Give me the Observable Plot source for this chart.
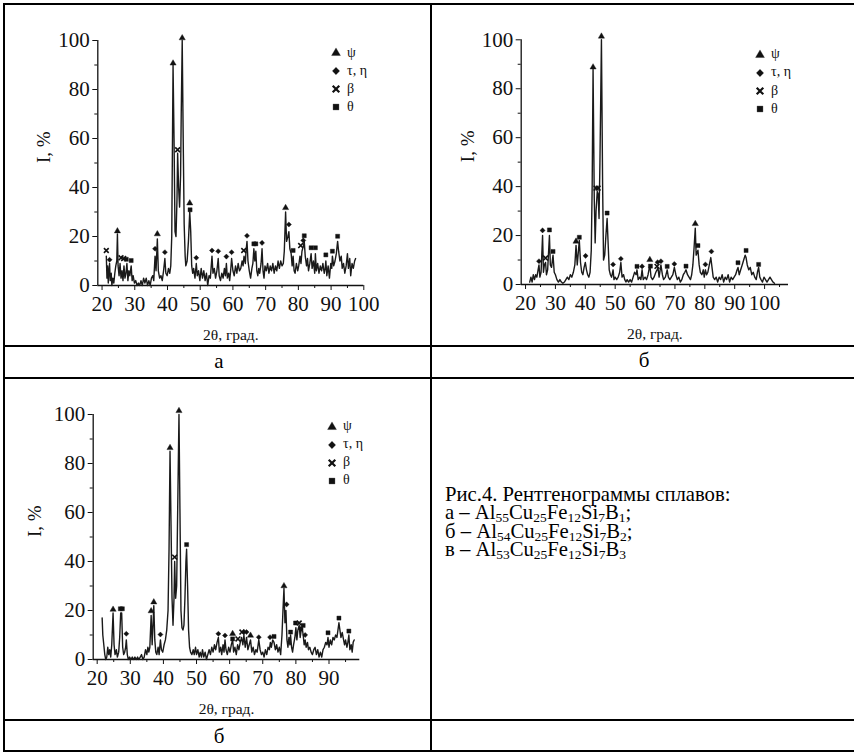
<!DOCTYPE html>
<html><head><meta charset="utf-8">
<script src="https://cdn.jsdelivr.net/npm/d3@7"></script>
<script src="https://cdn.jsdelivr.net/npm/@observablehq/plot@0.6"></script>
<style>
html,body{margin:0;padding:0;background:#fff;}
body{width:854px;height:752px;position:relative;overflow:hidden;font-family:"Liberation Serif","Times New Roman",serif;color:#000;}
.ln{position:absolute;background:#000;}
.plot{position:absolute;}
.plot text{font-family:"Liberation Serif","Times New Roman",serif;}
.leg{position:absolute;font-size:14px;line-height:14px;white-space:nowrap;color:#111;}
.cap{position:absolute;left:445px;top:485px;font-size:20.7px;line-height:18.4px;}
.cap sub{font-size:13.5px;vertical-align:-3px;line-height:0;}
.lab{position:absolute;font-size:21px;transform:translate(-50%,-50%);}
</style></head><body>
<script>
// ---- data ----
const phases = ["ψ", "τ, η", "β", "θ"];
const phaseSymbols = ["triangle", "diamond2", "times", "square"];

const patternA = [[21.3,12],[21.5,3],[21.7,8],[21.9,1],[22.1,6],[22.3,9],[22.5,2],[22.8,5],[23.0,0],[23.3,3],[23.6,1],[23.9,5],[24.2,8],[24.5,10],[24.7,21],[24.9,8],[25.2,4],[25.5,9],[25.8,3],[26.1,6],[26.4,2],[26.7,8],[27.0,3],[27.3,5],[27.6,9],[27.9,2],[28.2,6],[28.5,4],[28.9,8],[29.2,2],[29.5,4],[29.9,1],[30.3,2],[30.7,0],[31.1,1],[31.5,0],[31.9,2],[32.3,0],[32.7,3],[33.1,1],[33.5,3],[33.9,0],[34.3,2],[34.7,0],[35.1,3],[35.5,4],[35.8,2],[36.2,12],[36.5,6],[36.9,19],[37.2,6],[37.6,3],[38.0,4],[38.4,2],[38.8,6],[39.2,11],[39.5,5],[39.9,4],[40.3,7],[40.7,5],[41.0,8],[41.3,20],[41.7,90],[42.0,60],[42.3,22],[42.6,20],[42.9,35],[43.1,54],[43.4,40],[43.7,32],[44.0,45],[44.2,70],[44.5,100],[44.8,60],[45.1,25],[45.4,12],[45.6,8],[46.0,10],[46.4,18],[46.8,30],[47.1,22],[47.4,8],[47.7,5],[48.0,7],[48.4,3],[48.8,9],[49.1,4],[49.5,6],[49.9,2],[50.3,7],[50.7,3],[51.1,6],[51.5,2],[51.9,5],[52.3,0],[52.7,4],[53.1,3],[53.6,12],[53.9,5],[54.3,7],[54.7,3],[55.1,6],[55.5,11],[55.8,4],[56.2,2],[56.6,5],[57.0,3],[57.4,7],[57.7,4],[58.0,9],[58.3,3],[58.7,5],[59.0,2],[59.3,6],[59.6,11],[60.0,6],[60.4,4],[60.8,8],[61.2,5],[61.6,9],[62.0,6],[62.4,7],[62.8,10],[63.1,8],[63.4,12],[63.8,9],[64.0,14],[64.3,18],[64.6,10],[65.0,6],[65.4,3],[65.8,7],[66.1,9],[66.4,15],[66.7,10],[67.0,14],[67.3,6],[67.6,4],[67.9,7],[68.2,5],[68.6,9],[68.9,15],[69.2,6],[69.5,3],[69.8,8],[70.2,6],[70.6,9],[71.0,5],[71.4,8],[71.8,6],[72.2,9],[72.6,5],[73.0,8],[73.4,6],[73.8,10],[74.2,7],[74.6,10],[75.0,8],[75.4,9],[75.7,14],[76.1,30],[76.4,18],[76.8,20],[77.1,22],[77.4,15],[77.8,13],[78.1,8],[78.4,12],[78.7,6],[79.0,5],[79.4,9],[79.8,6],[80.1,8],[80.5,12],[80.8,9],[81.1,14],[81.5,16],[81.8,18],[82.1,12],[82.5,8],[82.8,11],[83.1,6],[83.5,9],[83.9,13],[84.2,7],[84.6,10],[85.0,5],[85.2,13],[85.5,6],[85.9,9],[86.3,5],[86.7,8],[87.1,6],[87.5,9],[87.9,5],[88.2,7],[88.4,10],[88.7,4],[89.1,8],[89.5,3],[89.9,9],[90.2,7],[90.4,12],[90.8,8],[91.2,10],[91.6,13],[92.0,18],[92.3,14],[92.7,10],[93.1,12],[93.4,7],[93.8,9],[94.2,5],[94.6,8],[95.0,13],[95.3,7],[95.7,11],[96.0,4],[96.4,9],[96.8,7],[97.2,10],[97.5,11]];
const peaksA = [[21.3,14.3,"β"],[22.3,10.5,"τ, η"],[24.7,22.2,"ψ"],[25.8,11.3,"β"],[26.6,11,"β"],[27.4,10.7,"θ"],[28.9,10.2,"θ"],[36.2,15,"τ, η"],[36.9,21,"ψ"],[39.2,13.6,"τ, η"],[41.7,90.7,"ψ"],[43.1,55.4,"β"],[44.5,101,"ψ"],[46.8,33.6,"ψ"],[46.9,30.9,"θ"],[48.8,11.3,"τ, η"],[53.6,14.3,"τ, η"],[55.5,14,"τ, η"],[58.0,11.8,"τ, η"],[59.6,13.6,"τ, η"],[63.3,14.3,"β"],[64.3,20.3,"τ, η"],[66.4,17,"θ"],[67.0,17,"θ"],[68.9,17.4,"τ, η"],[76.1,31.7,"ψ"],[77.1,24.9,"τ, η"],[78.4,14.3,"θ"],[80.7,16.3,"β"],[81.5,18.4,"τ, η"],[81.8,20.3,"θ"],[83.9,15.4,"θ"],[85.2,15.4,"θ"],[88.4,12.5,"θ"],[90.4,14,"θ"],[92.0,20.1,"θ"]];

const patternB = [[21.4,1],[21.8,3],[22.2,1],[22.6,4],[23.0,2],[23.4,4],[23.8,3],[24.2,6],[24.5,8],[24.8,3],[25.2,5],[25.7,20],[26.0,5],[26.3,8],[26.7,9],[27.0,4],[27.4,6],[28.0,20],[28.3,8],[28.7,7],[29.2,12],[29.6,5],[30.0,4],[30.5,2],[31,1],[31.5,2],[32,1],[32.5,0.5],[33,1],[33.5,2],[34,3],[34.5,2],[35,4],[35.5,3],[36,5],[36.5,8],[36.9,16],[37.3,8],[38.0,18],[38.4,9],[38.8,5],[39.2,4],[39.6,7],[40.0,9],[40.4,6],[40.8,4],[41.2,3],[41.6,5],[42.0,14],[42.3,40],[42.6,88],[43.0,35],[43.3,17],[43.6,30],[44.0,38],[44.3,37],[44.6,27],[44.9,50],[45.4,100],[45.8,40],[46.1,10],[46.5,12],[46.9,20],[47.3,27],[47.7,15],[48.0,6],[48.4,4],[48.8,3],[49.3,6],[49.6,2],[50.0,3],[50.5,2],[51.0,3],[51.5,5],[51.9,9],[52.3,3],[52.8,4],[53.2,2],[53.6,1],[54,2],[54.5,1],[55,2],[55.5,1],[56,3],[56.5,5],[57.0,4],[57.3,6],[57.7,2],[58.2,3],[58.6,2],[59.0,6],[59.4,2],[60.0,3],[60.5,2],[61.0,4],[61.6,8],[62.0,3],[62.5,2],[63,3],[63.6,5],[64.0,6],[64.3,7],[64.7,3],[65.3,8],[65.8,4],[66.2,2],[66.8,3],[67.4,6],[67.8,3],[68.3,2],[68.8,3],[69.3,4],[69.8,7],[70.3,4],[70.8,2],[71.3,3],[71.8,1],[72.3,2],[72.8,4],[73.3,5],[73.7,6],[74.2,4],[74.7,3],[75.2,2],[75.6,4],[76.0,8],[76.4,15],[76.8,23],[77.1,12],[77.7,14],[78.1,8],[78.5,5],[79.0,4],[79.5,6],[79.8,3],[80.2,6],[80.6,4],[81.0,5],[81.5,8],[82.0,11],[82.4,7],[82.8,3],[83.3,2],[83.8,3],[84.3,1],[84.8,3],[85.3,2],[85.8,4],[86.3,1],[86.8,3],[87.3,2],[87.8,4],[88.3,1],[88.8,3],[89.3,2],[89.8,3],[90.3,4],[90.8,6],[91.1,7],[91.5,4],[92.0,6],[92.5,8],[93.0,10],[93.5,12],[93.8,11],[94.2,8],[94.7,6],[95.2,7],[95.7,4],[96.2,5],[96.7,3],[97.2,2],[97.6,5],[98.0,7],[98.4,3],[98.8,2],[99.3,1],[99.8,3],[100.3,2],[100.8,1],[101.3,2],[101.8,3],[102.3,2],[102.8,1],[103.3,0.5]];
const peaksB = [[24.5,9.5,"τ, η"],[25.7,22.1,"τ, η"],[26.7,10.8,"β"],[28.0,22.3,"θ"],[29.2,13.5,"θ"],[36.9,17.6,"ψ"],[38.0,19.3,"θ"],[40.1,11.7,"τ, η"],[42.6,88.8,"ψ"],[43.6,39.4,"β"],[44.3,39.4,"β"],[45.4,101.4,"ψ"],[47.3,29.2,"θ"],[49.3,8.2,"τ, η"],[51.9,10.5,"τ, η"],[57.3,7.4,"θ"],[59.0,7.4,"τ, η"],[61.6,10.1,"ψ"],[61.8,7.5,"θ"],[64.0,7.4,"β"],[64.2,9.1,"τ, η"],[65.3,9.5,"τ, η"],[67.4,7.4,"θ"],[69.8,8.4,"τ, η"],[73.7,7.5,"θ"],[76.8,24.8,"ψ"],[77.7,15.9,"θ"],[80.2,8.2,"τ, η"],[82.2,13.5,"τ, η"],[91.1,8.9,"θ"],[93.8,13.9,"θ"],[98.0,8.2,"θ"]];

const patternC = [[21.5,17],[21.7,10],[22.0,6],[22.3,2],[22.6,0],[22.9,1],[23.2,5],[23.5,2],[23.8,4],[24.1,1],[24.4,6],[24.8,19],[25.1,6],[25.4,2],[25.8,4],[26.1,1],[26.5,3],[26.8,9],[27.1,19],[27.4,19],[27.7,5],[28.0,2],[28.3,3],[28.6,5],[28.8,8],[29.1,2],[29.4,0],[29.8,1],[30.2,0],[30.6,1],[31.0,0],[31.4,1],[31.8,0],[32.2,1],[32.6,0],[33.0,1],[33.4,2],[33.8,0],[34.2,1],[34.6,4],[35.0,2],[35.3,5],[35.6,3],[35.9,5],[36.3,18],[36.6,6],[37.1,22],[37.4,8],[37.7,3],[38.0,2],[38.4,5],[38.7,2],[39.1,8],[39.4,4],[39.8,3],[40.2,6],[40.6,8],[41.0,12],[41.4,20],[41.7,45],[42.0,85],[42.3,55],[42.6,25],[42.9,14],[43.2,25],[43.4,40],[43.7,25],[44.0,30],[44.3,60],[44.7,100],[45.0,60],[45.3,20],[45.6,13],[45.9,12],[46.2,14],[46.5,25],[46.8,40],[47.0,45],[47.3,30],[47.6,12],[47.9,5],[48.2,3],[48.6,2],[49.0,4],[49.3,2],[49.7,5],[50.0,2],[50.4,4],[50.8,1],[51.1,3],[51.5,1],[51.8,4],[52.2,1],[52.6,3],[53.0,0],[53.4,2],[53.8,4],[54.2,2],[54.6,5],[55.0,3],[55.4,6],[55.8,4],[56.2,7],[56.6,9],[56.9,3],[57.3,5],[57.6,2],[58.0,6],[58.3,3],[58.6,8],[58.9,4],[59.3,2],[59.7,5],[60.1,3],[60.5,6],[60.9,8],[61.2,3],[61.6,5],[62.0,2],[62.4,6],[62.8,4],[63.2,7],[63.6,9],[64.0,6],[64.3,10],[64.7,5],[65.1,9],[65.5,4],[65.9,6],[66.3,8],[66.7,3],[67.1,5],[67.5,2],[67.9,4],[68.3,3],[68.8,8],[69.2,4],[69.6,2],[70.0,3],[70.4,1],[70.8,4],[71.2,2],[71.6,5],[72.0,4],[72.3,7],[72.6,5],[73.0,8],[73.4,7],[73.8,4],[74.2,6],[74.6,3],[75.0,5],[75.4,2],[75.8,10],[76.1,20],[76.4,29],[76.7,15],[77.0,20],[77.3,8],[77.6,5],[77.9,9],[78.2,6],[78.4,10],[78.7,5],[79.0,3],[79.3,6],[79.7,9],[80.0,13],[80.3,8],[80.6,12],[81.0,14],[81.3,9],[81.6,12],[81.9,13],[82.2,10],[82.5,6],[82.8,8],[83.1,5],[83.5,7],[83.8,4],[84.2,5],[84.6,3],[85.0,2],[85.4,4],[85.8,5],[86.2,2],[86.6,4],[87.0,1],[87.4,3],[87.8,1],[88.2,4],[88.6,5],[89.0,7],[89.4,6],[89.7,9],[90.0,5],[90.4,8],[90.8,6],[91.2,9],[91.6,8],[92.0,10],[92.4,9],[92.7,12],[93.0,15],[93.3,12],[93.6,9],[94.0,11],[94.4,8],[94.7,6],[95.0,8],[95.4,5],[95.7,7],[96.0,10],[96.3,4],[96.7,6],[97.0,3],[97.3,7],[97.6,8]];
const peaksC = [[24.8,20.4,"ψ"],[27.0,20.7,"θ"],[27.6,20.7,"θ"],[28.8,10.5,"τ, η"],[36.3,19.8,"ψ"],[37.1,23.4,"ψ"],[39.1,10.2,"τ, η"],[42.0,86.4,"ψ"],[43.4,41.8,"β"],[44.7,101.5,"ψ"],[47.0,46.9,"θ"],[56.6,10.5,"τ, η"],[58.6,9.8,"τ, η"],[60.9,10.5,"ψ"],[60.9,8.4,"θ"],[62.5,8.4,"β"],[63.7,11.2,"β"],[64.3,11.2,"τ, η"],[65.1,11.2,"τ, η"],[66.3,9.8,"ψ"],[68.8,9.1,"τ, η"],[72.2,9.1,"τ, η"],[73.4,9.4,"θ"],[76.4,30.0,"ψ"],[77.2,22.5,"τ, η"],[78.4,11.2,"θ"],[79.9,14.9,"θ"],[81.0,14.9,"β"],[81.5,12.5,"τ, η"],[82.2,13.9,"θ"],[82.8,10,"τ, η"],[89.7,10.9,"θ"],[93.0,16.9,"θ"],[96.0,11.6,"θ"]];

const xTicksA = [20,30,40,50,60,70,80,90,100];
const xMinorA = [25,35,45,55,65,75,85,95];
const xTicksB = [20,30,40,50,60,70,80,90,100];
const xMinorB = [25,35,45,55,65,75,85,95,105];
const xTicksC = [20,30,40,50,60,70,80,90];
const xMinorC = [25,35,45,55,65,75,85,95];
const yTicks = [0,20,40,60,80,100];
const yMinor = [10,30,50,70,90];

const xTitle = "2θ, град.";
const yTitle = "I, %";
const panelLabels = ["а", "б", "б"];
const captionTitle = "Рис.4. Рентгенограммы сплавов:";
const alloys = [
  ["а", [["Al","55"],["Cu","25"],["Fe","12"],["Si","7"],["B","1"]], ";"],
  ["б", [["Al","54"],["Cu","25"],["Fe","12"],["Si","7"],["B","2"]], ";"],
  ["в", [["Al","53"],["Cu","25"],["Fe","12"],["Si","7"],["B","3"]], ""]
];

// ---- layout helpers ----
const FONT = "'Liberation Serif', 'Times New Roman', serif";
function xrd(pattern, peaks, c) {
  const svg = Plot.plot({
    width: c.w, height: c.h,
    marginLeft: c.ml, marginRight: c.mr, marginTop: c.mt, marginBottom: c.mb,
    style: {fontFamily: FONT, fontSize: "21px", color: "#111", background: "transparent", overflow: "visible"},
    x: {domain: c.xDomain},
    y: {domain: [0, 100]},
    symbol: {domain: phases, range: phaseSymbols},
    marks: [
      Plot.axisX(c.xTicks, {tickSize: 5, tickPadding: 6, label: null, fontSize: 21, fontFamily: FONT}),
      Plot.axisX(c.xMinor, {tickSize: 3, tickFormat: () => "", label: null}),
      Plot.axisY(yTicks, {tickSize: 5, tickPadding: 3, label: null, fontSize: 21, fontFamily: FONT}),
      Plot.axisY(yMinor, {tickSize: 3, tickFormat: () => "", label: null}),
      Plot.ruleY([0], {stroke: "#111", strokeWidth: 1.3}),
      Plot.ruleX([c.xDomain[0]], {stroke: "#111", strokeWidth: 1.3}),
      Plot.line(pattern, {x: d => d[0], y: d => d[1], stroke: "#1a1a1a", strokeWidth: 1.4}),
      Plot.dot(peaks, {x: d => d[0], y: d => d[1], symbol: d => d[2], r: 2.3,
        fill: "#111", stroke: "#111", strokeWidth: d => d[2] === "β" ? 1.6 : 0.4}),
      Plot.text([xTitle], {text: d => d, frameAnchor: "bottom", dy: 54, fontSize: 15.5, fontFamily: FONT}),
      Plot.text([yTitle], {text: d => d, frameAnchor: "left", dx: c.ydx, rotate: -90, fontSize: 19, fontFamily: FONT})
    ]
  });
  svg.classList.add("plot");
  svg.style.left = c.left + "px";
  svg.style.top = c.top + "px";
  document.body.appendChild(svg);
}

function legend(sx, sy, step, tx) {
  const symTypes = {triangle: d3.symbolTriangle, diamond2: d3.symbolDiamond2, times: d3.symbolTimes, square: d3.symbolSquare};
  phases.forEach((p, i) => {
    const y = sy + i * step;
    const s = d3.select(document.body).append("svg")
      .attr("width", 14).attr("height", 14)
      .style("position", "absolute").style("left", (sx - 7) + "px").style("top", (y - 7) + "px");
    const t = phaseSymbols[i];
    s.append("path").attr("transform", "translate(7,7)")
      .attr("d", d3.symbol(symTypes[t], t === "times" ? 30 : 34)())
      .attr("fill", t === "times" ? "none" : "#111").attr("stroke", "#111").attr("stroke-width", t === "times" ? 2.2 : 0.3);
    const div = document.createElement("div");
    div.className = "leg";
    div.style.left = tx + "px";
    div.style.top = (y - 7.5) + "px";
    div.textContent = p;
    document.body.appendChild(div);
  });
}

function hline(x, y, w, t) { const d = document.createElement("div"); d.className = "ln"; Object.assign(d.style, {left: x+"px", top: y+"px", width: w+"px", height: t+"px"}); document.body.appendChild(d); }
function vline(x, y, h, t) { const d = document.createElement("div"); d.className = "ln"; Object.assign(d.style, {left: x+"px", top: y+"px", width: t+"px", height: h+"px"}); document.body.appendChild(d); }

// table grid
hline(3, 3, 851, 2);
hline(3, 344.5, 851, 2);
hline(3, 377, 851, 2);
hline(3, 718.5, 851, 2);
hline(3, 750, 851, 2);
vline(3, 3, 749, 2);
vline(430, 3, 749, 2);

// plots
xrd(patternA, peaksA, {left: 20, top: 20, w: 370, h: 330, ml: 77.3, mr: 26.7, mt: 20, mb: 65, xDomain: [18.7, 100], xTicks: xTicksA, xMinor: xMinorA, ydx: -54});
xrd(patternB, peaksB, {left: 440, top: 20, w: 370, h: 330, ml: 80.7, mr: 22, mt: 19.3, mb: 66, xDomain: [18.55, 108], xTicks: xTicksB, xMinor: xMinorB, ydx: -53});
xrd(patternC, peaksC, {left: 20, top: 395, w: 360, h: 330, ml: 72.7, mr: 20.7, mt: 19, mb: 66, xDomain: [18.8, 99.3], xTicks: xTicksC, xMinor: xMinorC, ydx: -58});

legend(336, 53, 18, 347);
legend(760, 54.5, 18.3, 771);
legend(332, 426.7, 18, 343);

// panel labels
[[219, 361], [644, 360], [219, 736]].forEach((pos, i) => {
  const d = document.createElement("div"); d.className = "lab";
  d.style.left = pos[0] + "px"; d.style.top = pos[1] + "px"; d.textContent = panelLabels[i];
  document.body.appendChild(d);
});

// caption
const cap = document.createElement("div"); cap.className = "cap";
let html = captionTitle;
alloys.forEach(([k, parts, end]) => {
  html += "<br>" + k + " – " + parts.map(([el, n]) => el + "<sub>" + n + "</sub>").join("") + end;
});
cap.innerHTML = html;
document.body.appendChild(cap);
</script>
</body></html>
